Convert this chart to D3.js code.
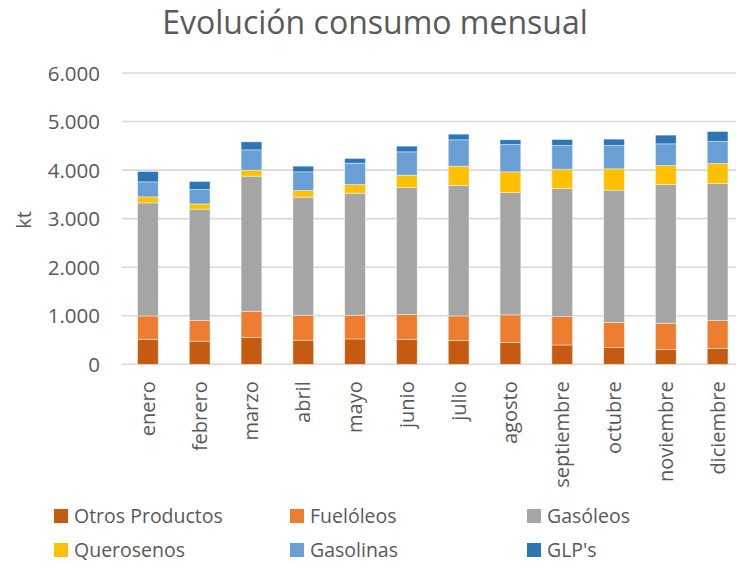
<!DOCTYPE html>
<html>
<head>
<meta charset="utf-8">
<script src="https://cdn.jsdelivr.net/npm/d3@7"></script>
<style>
  body { margin: 0; background: #fff; }
  text { font-family: "Open Sans", "Noto Sans", sans-serif; fill: #595959; }
</style>
</head>
<body>
<div id="chart"></div>
<script>
var months = ["enero", "febrero", "marzo", "abril", "mayo", "junio", "julio",
              "agosto", "septiembre", "octubre", "noviembre", "diciembre"];
var seriesNames = ["Otros Productos", "Fuelóleos", "Gasóleos", "Querosenos", "Gasolinas", "GLP's"];
var otros      = [515, 474, 550, 495, 522, 515, 488, 447, 398, 344, 302, 323];
var fueloleos  = [481, 426, 542, 515, 488, 509, 508, 570, 584, 515, 543, 577];
var gasoleos   = [2329, 2295, 2783, 2432, 2514, 2617, 2686, 2521, 2638, 2727, 2858, 2824];
var querosenos = [124, 109, 123, 137, 179, 254, 399, 426, 399, 440, 391, 412];
var gasolinas  = [309, 296, 419, 385, 440, 481, 543, 563, 488, 481, 447, 453];
var glp        = [213, 165, 165, 117, 96, 117, 116, 97, 123, 130, 179, 206];
var yTicks = [0, 1000, 2000, 3000, 4000, 5000, 6000];

var colors = ["#C55A11", "#ED7D31", "#A5A5A5", "#FFC000", "#6A9FD6", "#2E75B6"];

var width = 736, height = 564;
var margin = {left: 122, right: -7.5, top: 73, bottom: 199.7};

var svg = d3.select("#chart").append("svg")
    .attr("width", width)
    .attr("height", height);

// build rows for stacking
var allSeries = [otros, fueloleos, gasoleos, querosenos, gasolinas, glp];
var rows = months.map(function(m, i) {
    var row = {month: m};
    seriesNames.forEach(function(s, j) { row[s] = allSeries[j][i]; });
    return row;
});
var stacked = d3.stack().keys(seriesNames)(rows);

var x = d3.scaleBand()
    .domain(months)
    .range([margin.left, width - margin.right])
    .paddingInner(0.6)
    .paddingOuter(0.3);

var y = d3.scaleLinear()
    .domain([0, 6000])
    .range([height - margin.bottom, margin.top]);

// title
svg.append("text")
    .attr("x", 375)
    .attr("y", 34)
    .attr("text-anchor", "middle")
    .attr("font-size", "32px")
    .text("Evolución consumo mensual");

// gridlines
svg.append("g")
    .selectAll("line")
    .data(yTicks)
    .enter().append("line")
    .attr("x1", margin.left)
    .attr("x2", width)
    .attr("y1", function(d) { return y(d); })
    .attr("y2", function(d) { return y(d); })
    .attr("stroke", "#D9D9D9")
    .attr("stroke-width", 1.6);

// y axis labels
var fmt = function(d) { return d3.format(",")(d).replace(/,/g, "."); };
var yAxis = d3.axisLeft(y).tickValues(yTicks).tickFormat(fmt).tickSize(0).tickPadding(0);
var gy = svg.append("g")
    .attr("transform", "translate(100,0)")
    .call(yAxis);
gy.select(".domain").remove();
gy.selectAll("text")
    .attr("font-size", "20.5px")
    .attr("font-family", "\"Open Sans\", sans-serif")
    .attr("fill", "#595959")
    .attr("dy", "0.35em");

svg.append("text")
    .attr("transform", "translate(31,220) rotate(-90)")
    .attr("text-anchor", "middle")
    .attr("font-size", "20px")
    .text("kt");

// bars
svg.append("g")
    .selectAll("g")
    .data(stacked)
    .enter().append("g")
    .attr("fill", function(d, i) { return colors[i]; })
    .selectAll("rect")
    .data(function(d) { return d; })
    .enter().append("rect")
    .attr("x", function(d) { return x(d.data.month); })
    .attr("width", x.bandwidth())
    .attr("y", function(d) { return y(d[1]); })
    .attr("height", function(d) { return y(d[0]) - y(d[1]); })
    .attr("stroke", "#ffffff")
    .attr("stroke-opacity", 0.5)
    .attr("stroke-width", 0.8);

// x axis labels
var xAxis = d3.axisBottom(x).tickSize(0).tickPadding(0);
var gx = svg.append("g")
    .attr("transform", "translate(0," + y(0) + ")")
    .call(xAxis);
gx.select(".domain").remove();
gx.selectAll("text")
    .attr("font-size", "20px")
    .attr("font-family", "\"Open Sans\", sans-serif")
    .attr("fill", "#595959")
    .attr("text-anchor", "end")
    .attr("transform", "rotate(-90)")
    .attr("x", -17)
    .attr("y", 0)
    .attr("dy", "0.35em");

// legend
var legendPos = [[54, 516], [290, 516], [527, 516], [54, 550], [290, 550], [527, 550]];
var legend = svg.append("g")
    .selectAll("g")
    .data(seriesNames)
    .enter().append("g")
    .attr("transform", function(d, i) { return "translate(" + legendPos[i][0] + "," + legendPos[i][1] + ")"; });
legend.append("rect")
    .attr("x", 0)
    .attr("y", -7)
    .attr("width", 14)
    .attr("height", 14)
    .attr("fill", function(d, i) { return colors[i]; });
legend.append("text")
    .attr("x", 20)
    .attr("y", 0)
    .attr("dy", "0.35em")
    .attr("font-size", "19.5px")
    .text(function(d) { return d; });
</script>
</body>
</html>
